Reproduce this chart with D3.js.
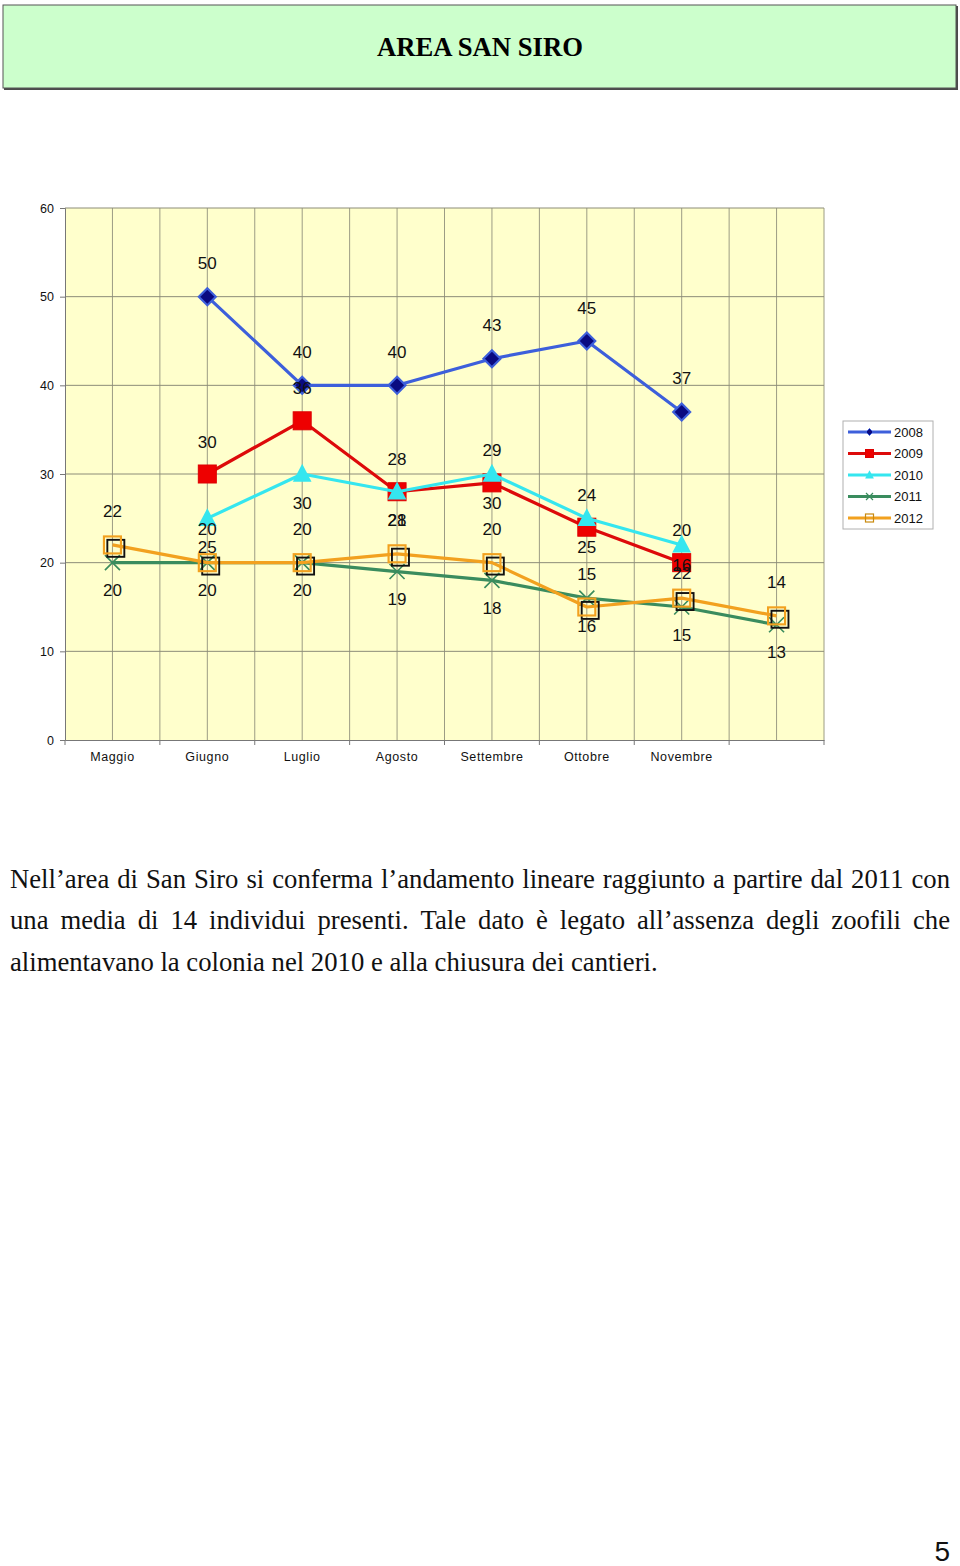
<!DOCTYPE html>
<html>
<head>
<meta charset="utf-8">
<script src="https://cdn.jsdelivr.net/npm/d3@7"></script>
<style>
  html, body { margin: 0; padding: 0; background: #fff; }
  svg { display: block; }
</style>
</head>
<body>
<svg id="page" width="960" height="1566"></svg>
<script>
// ---------------- DATA ----------------
const title = "AREA SAN SIRO";
const categories = ["Maggio", "Giugno", "Luglio", "Agosto", "Settembre", "Ottobre", "Novembre", " "];
const seriesNames = ["2008", "2009", "2010", "2011", "2012"];
const values2008 = [null, 50, 40, 40, 43, 45, 37, null];
const values2009 = [null, 30, 36, 28, 29, 24, 20, null];
const values2010 = [null, 25, 30, 28, 30, 25, 22, null];
const values2011 = [20, 20, 20, 19, 18, 16, 15, 13];
const values2012 = [22, 20, 20, 21, 20, 15, 16, 14];
const yTicks = [0, 10, 20, 30, 40, 50, 60];
const paragraphLines = [
  "Nell\u2019area di San Siro si conferma l\u2019andamento lineare raggiunto a partire dal 2011 con",
  "una media di 14 individui presenti. Tale dato \u00e8 legato all\u2019assenza degli zoofili che",
  "alimentavano la colonia nel 2010 e alla chiusura dei cantieri."
];
const pageNumber = "5";

// ---------------- STYLE ----------------
const styles = {
  "2008": { color: "#3d5fdb", marker: "diamond", labelDy: -33 },
  "2009": { color: "#dd0a0a", marker: "square", labelDy: -32 },
  "2010": { color: "#35e6ef", marker: "triangle", labelDy: 29 },
  "2011": { color: "#3a8c5e", marker: "x", labelDy: 28 },
  "2012": { color: "#f2a11f", marker: "hollow", labelDy: -33 }
};
const allValues = [values2008, values2009, values2010, values2011, values2012];

const svg = d3.select("#page");

// ---------------- TITLE BOX ----------------
svg.append("rect").attr("x", 4).attr("y", 6).attr("width", 954).attr("height", 84).attr("fill", "#4a4a4a");
svg.append("rect").attr("x", 3).attr("y", 5).attr("width", 953).attr("height", 83)
  .attr("fill", "#ccffcc").attr("stroke", "#555").attr("stroke-width", 1);
svg.append("text").attr("x", 480).attr("y", 56).attr("text-anchor", "middle")
  .attr("font-family", "Liberation Serif, serif").attr("font-weight", "bold").attr("font-size", 27)
  .attr("textLength", 206).attr("lengthAdjust", "spacingAndGlyphs")
  .attr("fill", "#000").text(title);

// ---------------- CHART ----------------
const plot = { left: 65, right: 824, top: 208, bottom: 740 };
const x = d3.scaleBand().domain(categories).range([plot.left, plot.right]).paddingInner(0).paddingOuter(0);
const y = d3.scaleLinear().domain([0, 60]).range([plot.bottom, plot.top]);
const cx = c => x(c) + x.bandwidth() / 2;

const g = svg.append("g");
g.append("rect").attr("x", plot.left).attr("y", plot.top)
  .attr("width", plot.right - plot.left).attr("height", plot.bottom - plot.top)
  .attr("fill", "#ffffcc");

// vertical gridlines: at each category center and boundary
const gridColor = "#9c9c84";
categories.forEach(c => {
  g.append("line").attr("x1", cx(c)).attr("x2", cx(c)).attr("y1", plot.top).attr("y2", plot.bottom)
    .attr("stroke", gridColor).attr("stroke-width", 1);
  g.append("line").attr("x1", x(c) + x.bandwidth()).attr("x2", x(c) + x.bandwidth())
    .attr("y1", plot.top).attr("y2", plot.bottom)
    .attr("stroke", gridColor).attr("stroke-width", 1);
});
// horizontal gridlines
yTicks.filter(t => t > 0).forEach(t => {
  g.append("line").attr("x1", plot.left).attr("x2", plot.right).attr("y1", y(t)).attr("y2", y(t))
    .attr("stroke", "#8c8c78").attr("stroke-width", 1);
});

// Y axis
const yAxis = g.append("g").attr("transform", `translate(${plot.left},0)`)
  .call(d3.axisLeft(y).tickValues(yTicks).tickSize(5).tickPadding(6));
yAxis.select(".domain").attr("stroke", "#777");
yAxis.selectAll(".tick line").attr("stroke", "#777");
yAxis.selectAll(".tick text").attr("font-family", "Liberation Sans, Arial, sans-serif")
  .attr("font-size", 12.5).attr("fill", "#111");

// X axis
const xAxisG = g.append("g").attr("transform", `translate(0,${plot.bottom})`)
  .call(d3.axisBottom(x).tickSize(0).tickPadding(12));
xAxisG.select(".domain").attr("stroke", "#777");
xAxisG.selectAll(".tick text").attr("font-family", "Liberation Sans, Arial, sans-serif")
  .attr("font-size", 12.5).attr("letter-spacing", 0.6).attr("fill", "#111");
// boundary tick marks
[plot.left].concat(categories.map(c => x(c) + x.bandwidth())).forEach(px => {
  g.append("line").attr("x1", px).attr("x2", px).attr("y1", plot.bottom).attr("y2", plot.bottom + 5)
    .attr("stroke", "#777");
});

// marker drawing
function drawMarker(sel, type, color, s) {
  if (type === "diamond") {
    sel.append("path").attr("d", `M0,${-s/2}L${s/2},0L0,${s/2}L${-s/2},0Z`)
      .attr("fill", "#0a0a80").attr("stroke", color).attr("stroke-width", Math.max(1, s/8));
  } else if (type === "square") {
    sel.append("rect").attr("x", -s/2).attr("y", -s/2).attr("width", s).attr("height", s)
      .attr("fill", "#ee0000").attr("stroke", "#dd0000").attr("stroke-width", 1);
  } else if (type === "triangle") {
    sel.append("path").attr("d", `M0,${-s*0.6}L${s*0.55},${s*0.45}L${-s*0.55},${s*0.45}Z`)
      .attr("fill", color);
  } else if (type === "x") {
    sel.append("path").attr("d", `M${-s/2},${-s/2}L${s/2},${s/2}M${s/2},${-s/2}L${-s/2},${s/2}`)
      .attr("stroke", color).attr("stroke-width", Math.max(1.2, s/9)).attr("fill", "none");
  } else if (type === "hollow") {
    const o = s * 0.2;
    sel.append("rect").attr("x", -s/2 + o).attr("y", -s/2 + o).attr("width", s).attr("height", s)
      .attr("fill", "none").attr("stroke", "#111").attr("stroke-width", Math.max(1, s/9));
    sel.append("rect").attr("x", -s/2).attr("y", -s/2).attr("width", s).attr("height", s)
      .attr("fill", "none").attr("stroke", color).attr("stroke-width", Math.max(1, s/8));
  }
}

const markerSize = { diamond: 17, square: 18, triangle: 17, x: 15, hollow: 17 };

seriesNames.forEach((name, i) => {
  const st = styles[name];
  const pts = categories.map((c, j) => ({ c, v: allValues[i][j] })).filter(d => d.v !== null);
  const line = d3.line().x(d => cx(d.c)).y(d => y(d.v));
  g.append("path").datum(pts).attr("d", line).attr("fill", "none")
    .attr("stroke", st.color).attr("stroke-width", 3.2).attr("stroke-linejoin", "round");
  pts.forEach(d => {
    const m = g.append("g").attr("transform", `translate(${cx(d.c)},${y(d.v)})`);
    drawMarker(m, st.marker, st.color, markerSize[st.marker]);
  });
});
// data labels (drawn after all series)
seriesNames.forEach((name, i) => {
  const st = styles[name];
  categories.forEach((c, j) => {
    const v = allValues[i][j];
    if (v === null) return;
    g.append("text").attr("x", cx(c)).attr("y", y(v) + st.labelDy)
      .attr("text-anchor", "middle").attr("dominant-baseline", "central")
      .attr("font-family", "Liberation Sans, Arial, sans-serif").attr("font-size", 17)
      .attr("fill", "#111").text(v);
  });
});

// Legend
const lg = svg.append("g");
lg.append("rect").attr("x", 843).attr("y", 421).attr("width", 90).attr("height", 108)
  .attr("fill", "#fff").attr("stroke", "#b0b0b0");
const legendMarkerSize = { diamond: 7, square: 8, triangle: 8, x: 7, hollow: 8 };
seriesNames.forEach((name, i) => {
  const st = styles[name];
  const ly = 432 + i * 21.5;
  lg.append("line").attr("x1", 848).attr("x2", 891).attr("y1", ly).attr("y2", ly)
    .attr("stroke", st.color).attr("stroke-width", 3);
  const m = lg.append("g").attr("transform", `translate(869.5,${ly})`);
  if (st.marker === "hollow") {
    m.append("rect").attr("x", -4).attr("y", -4).attr("width", 8).attr("height", 8)
      .attr("fill", "none").attr("stroke", "#c98a10").attr("stroke-width", 1.2);
  } else {
    drawMarker(m, st.marker, st.color, legendMarkerSize[st.marker]);
  }
  lg.append("text").attr("x", 894).attr("y", ly).attr("dominant-baseline", "central")
    .attr("font-family", "Liberation Sans, Arial, sans-serif").attr("font-size", 13)
    .attr("fill", "#111").text(name);
});

// ---------------- PARAGRAPH ----------------
const pLeft = 10, pRight = 950, lineWidth3 = 648;
const baseSize = 24;
const para = svg.append("g").attr("font-family", "Liberation Serif, Times New Roman, serif").attr("fill", "#111");
// measure to set font size so the last line matches its reference width
const probe = para.append("text").attr("font-size", baseSize).text(paragraphLines[2]);
const w3 = probe.node().getComputedTextLength();
probe.remove();
const fontSize = baseSize * lineWidth3 / w3;
const baselines = [888, 929, 971];
paragraphLines.forEach((ln, i) => {
  const words = ln.split(" ");
  const t = para.append("text").attr("y", baselines[i]).attr("font-size", fontSize);
  if (i < 2) {
    const widths = words.map(w => {
      const p = para.append("text").attr("font-size", fontSize).text(w);
      const ww = p.node().getComputedTextLength();
      p.remove();
      return ww;
    });
    const total = d3.sum(widths);
    const gap = (pRight - pLeft - total) / (words.length - 1);
    let cxp = pLeft;
    words.forEach((w, k) => {
      t.append("tspan").attr("x", cxp).text(w + (k < words.length - 1 ? " " : ""));
      cxp += widths[k] + gap;
    });
  } else {
    t.attr("x", pLeft).text(ln);
  }
});

// page number
svg.append("text").attr("x", 950).attr("y", 1561).attr("text-anchor", "end")
  .attr("font-family", "Liberation Sans, Arial, sans-serif").attr("font-size", 28)
  .attr("fill", "#111").text(pageNumber);
</script>
</body>
</html>
